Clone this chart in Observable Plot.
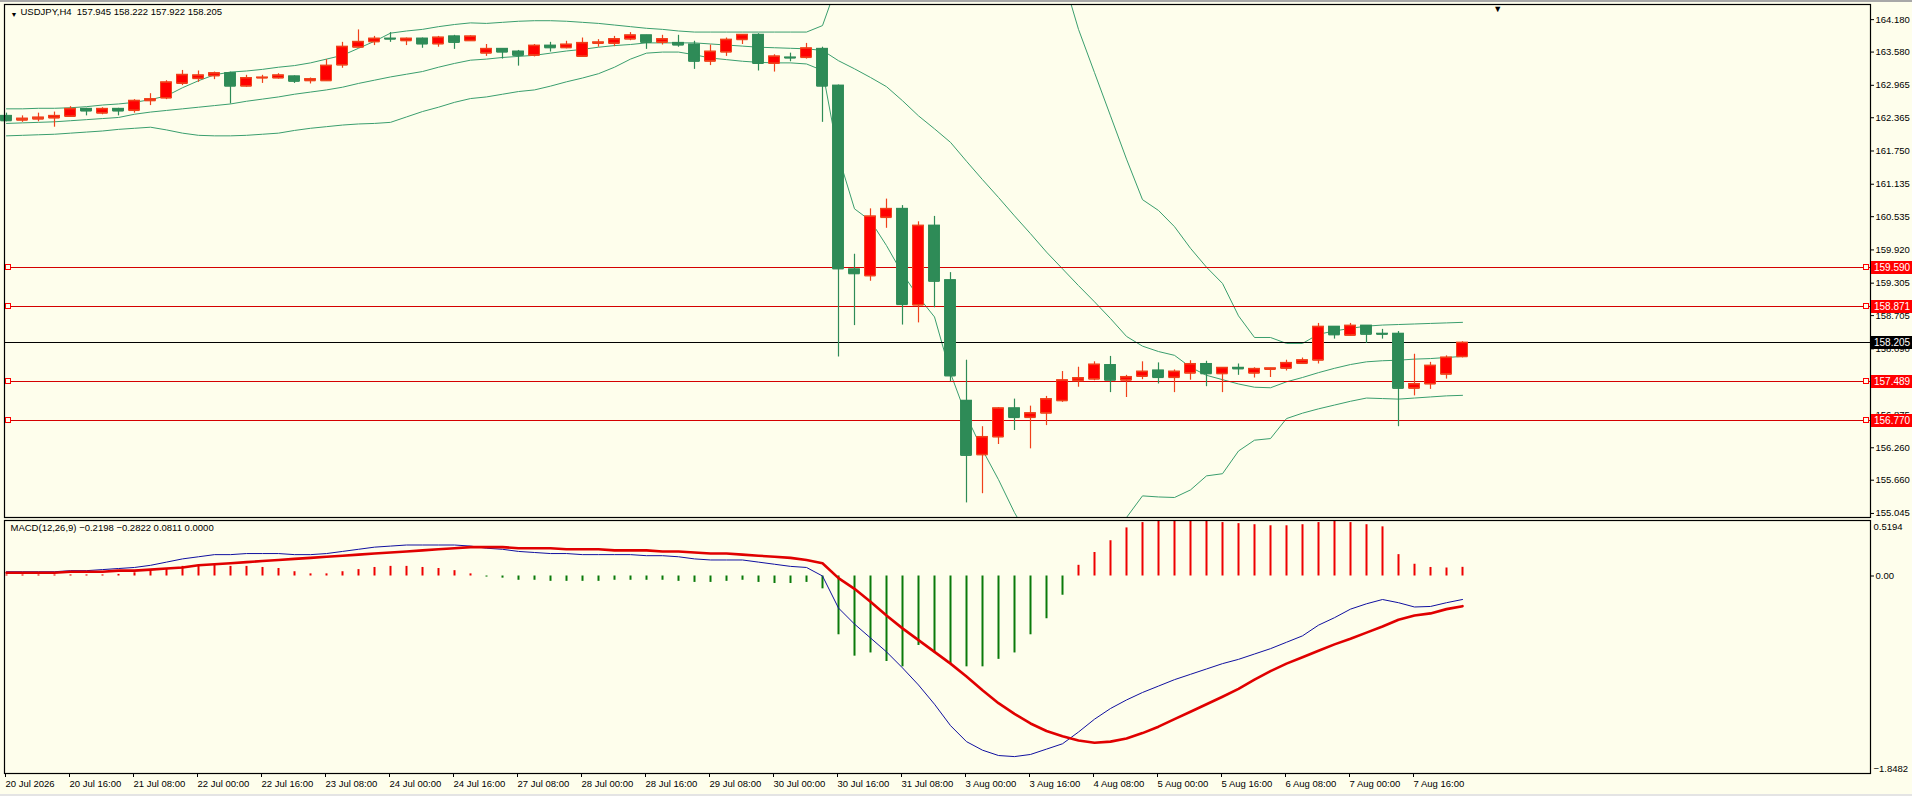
<!DOCTYPE html>
<html>
<head>
<meta charset="utf-8">
<script src="https://cdn.jsdelivr.net/npm/d3@7"></script>
<script src="https://cdn.jsdelivr.net/npm/@observablehq/plot@0.6"></script>
<style>
html,body{margin:0;padding:0;background:#fefeec;}
#wrap{position:relative;width:1912px;height:796px;overflow:hidden;background:#fefeec;}
#wrap svg{position:absolute;left:0;}
#topbar{position:absolute;left:0;top:0;width:1912px;height:2px;background:#a8a8a8;z-index:2;}
#botbar{position:absolute;left:0;bottom:0;width:1912px;height:2px;background:#e4e4e4;z-index:2;}
</style>
</head>
<body>
<div id="wrap"><div id="topbar"></div><div id="botbar"></div></div>
<script>
// ---------- data ----------
const symbol = "USDJPY,H4";
const opens = [162.40,162.32,162.34,162.36,162.39,162.53,162.45,162.53,162.50,162.68,
162.73,163.00,163.09,163.14,163.19,162.95,163.10,163.10,163.13,163.05,
163.05,163.34,163.67,163.77,163.83,163.79,163.83,163.73,163.87,163.79,
163.56,163.64,163.59,163.52,163.70,163.66,163.50,163.74,163.74,163.82,
163.89,163.76,163.75,163.72,163.41,163.58,163.81,163.90,163.37,163.48,
163.48,163.64,162.96,159.56,159.44,160.52,160.68,158.90,160.37,159.36,
157.13,156.13,156.46,156.99,156.82,156.90,157.13,157.50,157.53,157.79,
157.51,157.58,157.69,157.56,157.64,157.81,157.63,157.74,157.64,157.71,
157.73,157.82,157.88,158.50,158.34,158.52,158.37,158.37,157.36,157.44,
157.62,157.945];
const highs = [162.45,162.40,162.45,162.47,162.57,162.54,162.55,162.54,162.70,162.81,
163.05,163.24,163.23,163.21,163.21,163.15,163.15,163.18,163.14,163.10,
163.44,163.76,163.99,163.87,163.94,163.84,163.84,163.87,163.89,163.88,
163.72,163.64,163.61,163.72,163.76,163.78,163.84,163.81,163.87,163.94,
163.89,163.89,163.89,163.78,163.71,163.84,163.90,163.92,163.53,163.56,
163.74,163.67,162.97,159.84,160.68,160.86,160.74,160.44,160.54,159.50,
157.88,156.65,157.00,157.16,157.03,157.21,157.67,157.75,157.85,157.95,
157.60,157.85,157.83,157.70,157.87,157.86,157.74,157.81,157.74,157.73,
157.88,157.92,158.56,158.50,158.56,158.52,158.45,158.41,157.99,157.84,
157.96,158.222];
const lows = [162.29,162.28,162.29,162.19,162.37,162.40,162.42,162.40,162.45,162.59,
162.70,162.96,163.02,163.07,162.62,162.93,163.00,163.08,163.00,162.99,
163.04,163.28,163.66,163.70,163.76,163.70,163.65,163.67,163.63,163.78,
163.50,163.45,163.32,163.49,163.58,163.64,163.50,163.67,163.68,163.79,
163.63,163.71,163.67,163.26,163.33,163.50,163.72,163.23,163.21,163.40,
163.45,162.28,157.94,158.52,159.34,160.32,158.53,158.57,158.85,157.48,
155.24,155.41,156.32,156.58,156.24,156.67,157.10,157.38,157.50,157.28,
157.19,157.52,157.44,157.28,157.51,157.39,157.28,157.60,157.55,157.56,
157.68,157.81,157.81,158.27,158.33,158.19,158.27,156.65,157.22,157.34,
157.53,157.922];
const closes = [162.31,162.35,162.37,162.40,162.53,162.49,162.53,162.49,162.68,162.71,
163.02,163.16,163.15,163.19,162.95,163.10,163.11,163.15,163.04,163.08,
163.33,163.68,163.77,163.83,163.82,163.83,163.73,163.85,163.76,163.87,
163.64,163.58,163.52,163.70,163.66,163.72,163.75,163.76,163.82,163.89,
163.76,163.82,163.71,163.41,163.59,163.81,163.90,163.37,163.50,163.47,
163.65,162.95,159.57,159.48,160.54,160.68,158.91,160.37,159.34,157.59,
156.12,156.46,156.99,156.82,156.90,157.16,157.51,157.55,157.80,157.51,
157.57,157.67,157.56,157.67,157.81,157.63,157.74,157.72,157.72,157.73,
157.83,157.88,158.50,158.35,158.52,158.36,158.36,157.36,157.44,157.78,
157.93,158.205];
const bbUpper = [162.53,162.53,162.54,162.54,162.55,162.57,162.60,162.62,162.65,162.70,
162.77,162.92,163.05,163.16,163.21,163.23,163.26,163.30,163.33,163.38,
163.45,163.52,163.65,163.78,163.93,163.97,164.00,164.05,164.09,164.12,
164.11,164.13,164.15,164.16,164.16,164.15,164.13,164.11,164.08,164.05,
164.02,164.00,163.97,163.95,163.95,163.95,163.95,163.95,163.95,163.95,
163.95,164.07,164.90,165.40,165.60,165.80,166.10,166.20,166.30,166.50,
167.00,167.10,167.00,166.80,166.40,165.80,165.00,164.00,163.20,162.40,
161.60,160.85,160.65,160.35,159.95,159.60,159.30,158.70,158.30,158.30,
158.19,158.19,158.36,158.42,158.47,158.51,158.53,158.54,158.55,158.56,
158.57,158.58];
const bbMiddle = [162.26,162.27,162.28,162.29,162.31,162.33,162.35,162.37,162.43,162.47,
162.50,162.53,162.56,162.59,162.62,162.67,162.71,162.75,162.80,162.84,
162.88,162.93,163.00,163.06,163.12,163.17,163.22,163.30,163.37,163.43,
163.45,163.48,163.50,163.52,163.56,163.60,163.63,163.67,163.70,163.72,
163.75,163.75,163.75,163.75,163.73,163.71,163.69,163.67,163.66,163.65,
163.64,163.61,163.42,163.27,163.11,162.94,162.68,162.40,162.16,161.91,
161.56,161.22,160.89,160.55,160.22,159.88,159.57,159.26,158.96,158.65,
158.32,158.14,158.04,157.97,157.75,157.60,157.52,157.44,157.38,157.37,
157.48,157.56,157.65,157.73,157.80,157.85,157.87,157.88,157.90,157.91,
157.93,157.95];
const bbLower = [162.03,162.04,162.05,162.06,162.08,162.10,162.12,162.15,162.17,162.19,
162.14,162.08,162.04,162.03,162.03,162.04,162.06,162.08,162.13,162.17,
162.20,162.23,162.25,162.26,162.28,162.38,162.48,162.56,162.65,162.72,
162.75,162.80,162.85,162.88,162.95,163.03,163.10,163.18,163.30,163.45,
163.56,163.58,163.58,163.53,163.47,163.44,163.41,163.39,163.38,163.38,
163.36,163.24,161.65,160.68,160.46,160.00,159.48,159.05,158.68,157.64,
156.84,156.22,155.67,155.06,154.55,154.20,154.00,154.10,154.40,154.80,
154.97,155.37,155.35,155.34,155.48,155.74,155.78,156.20,156.40,156.43,
156.80,156.90,156.98,157.05,157.12,157.18,157.17,157.16,157.18,157.20,
157.22,157.23];
const macdHist = [0.01,0.01,0.01,0.01,0.01,0.01,0.01,0.015,0.03,0.05,
0.07,0.09,0.10,0.10,0.09,0.09,0.08,0.07,0.04,0.02,
0.02,0.04,0.06,0.08,0.09,0.09,0.08,0.07,0.05,0.02,
-0.01,-0.02,-0.04,-0.04,-0.05,-0.05,-0.05,-0.05,-0.04,-0.04,
-0.04,-0.04,-0.05,-0.06,-0.06,-0.05,-0.04,-0.06,-0.07,-0.07,
-0.06,-0.12,-0.55,-0.75,-0.72,-0.80,-0.85,-0.65,-0.72,-0.82,
-0.85,-0.85,-0.78,-0.72,-0.55,-0.40,-0.18,0.10,0.22,0.33,
0.45,0.50,0.51,0.5194,0.51,0.51,0.50,0.49,0.48,0.47,
0.47,0.48,0.50,0.51,0.50,0.48,0.46,0.20,0.11,0.08,
0.075,0.0811];
const macdMain = [0.04,0.04,0.04,0.04,0.05,0.05,0.06,0.07,0.08,0.10,
0.13,0.16,0.18,0.20,0.20,0.21,0.21,0.21,0.20,0.20,
0.21,0.23,0.25,0.27,0.28,0.29,0.29,0.29,0.29,0.28,
0.26,0.25,0.23,0.22,0.21,0.21,0.20,0.20,0.20,0.20,
0.19,0.19,0.18,0.16,0.15,0.15,0.15,0.13,0.11,0.09,
0.08,0.00,-0.30,-0.45,-0.58,-0.71,-0.86,-1.02,-1.20,-1.40,
-1.55,-1.63,-1.68,-1.69,-1.67,-1.62,-1.57,-1.46,-1.34,-1.24,
-1.16,-1.09,-1.03,-0.97,-0.92,-0.87,-0.82,-0.78,-0.73,-0.68,
-0.62,-0.56,-0.46,-0.39,-0.31,-0.26,-0.22,-0.25,-0.29,-0.285,
-0.25,-0.2198];
const macdSignal = [0.03,0.03,0.03,0.03,0.04,0.04,0.04,0.05,0.05,0.06,
0.07,0.08,0.10,0.11,0.12,0.13,0.14,0.15,0.16,0.17,
0.18,0.19,0.20,0.21,0.22,0.23,0.24,0.25,0.26,0.27,
0.27,0.27,0.26,0.26,0.26,0.25,0.25,0.25,0.24,0.24,
0.24,0.23,0.23,0.22,0.21,0.21,0.20,0.19,0.18,0.17,
0.15,0.12,-0.02,-0.12,-0.24,-0.37,-0.49,-0.60,-0.71,-0.82,
-0.94,-1.07,-1.19,-1.29,-1.38,-1.45,-1.50,-1.54,-1.56,-1.55,
-1.52,-1.47,-1.41,-1.34,-1.27,-1.20,-1.13,-1.056,-0.97,-0.89,
-0.82,-0.76,-0.70,-0.64,-0.587,-0.53,-0.472,-0.41,-0.37,-0.35,
-0.31,-0.2822];
const macdExtra = 0.0000;
const dateLabels = ["20 Jul 2026","20 Jul 16:00","21 Jul 08:00","22 Jul 00:00","22 Jul 16:00","23 Jul 08:00",
"24 Jul 00:00","24 Jul 16:00","27 Jul 08:00","28 Jul 00:00","28 Jul 16:00","29 Jul 08:00","30 Jul 00:00",
"30 Jul 16:00","31 Jul 08:00","3 Aug 00:00","3 Aug 16:00","4 Aug 08:00","5 Aug 00:00","5 Aug 16:00",
"6 Aug 08:00","7 Aug 00:00","7 Aug 16:00"];
const barsPerLabel = 4;
const priceTicks = [164.180,163.580,162.965,162.365,161.750,161.135,160.535,159.920,159.305,158.705,158.090,156.875,156.260,155.660,155.045];
const levels = [159.590,158.871,157.489,156.770];
const priceDomain = [154.97, 164.46];
const macdDomain = [-1.8482, 0.5194];
const chartShiftBars = 2.2;
</script>
<script>
const W = 1912, H1 = 519, H2 = 277;
const ML = 4, MR = 42;
const xDomain = [-0.125, 116.5];
const UP = "#ff0000", UPLINE = "#f0401a", DOWN = "#2e8b57", BAND = "#3a9e6e", LEVEL = "#d40000";
const f3 = d3.format(".3f"), f4 = d3.format(".4f");
const font = "'Liberation Sans', 'DejaVu Sans', sans-serif";
const FS = 9.5;
const hw = 0.34;

const bars = opens.map((o, i) => ({i, open: o, high: highs[i], low: lows[i], close: closes[i], up: closes[i] >= o}));
const bands = bbUpper.map((u, i) => ({i, upper: u, middle: bbMiddle[i], lower: bbLower[i]}));
const macd = macdMain.map((m, i) => ({i, main: m, signal: macdSignal[i], hist: macdHist[i]}));
const last = bars[bars.length - 1];
const currentPrice = last.close;

function labelBoxes(vals, fill, squares) {
  return (index, scales, values, dims) => {
    const g = d3.create("svg:g").attr("text-anchor", "start");
    const xr = dims.width - dims.marginRight;
    const xl = dims.marginLeft;
    for (const v of vals) {
      const y = Math.round(scales.y(v));
      if (squares) {
        g.append("rect").attr("x", xl + 1.5).attr("y", y - 2.5).attr("width", 5).attr("height", 5)
          .attr("fill", "#fefeec").attr("stroke", fill).attr("stroke-width", 1);
        g.append("rect").attr("x", xr - 6.5).attr("y", y - 2.5).attr("width", 5).attr("height", 5)
          .attr("fill", "#fefeec").attr("stroke", fill).attr("stroke-width", 1);
      }
      g.append("rect").attr("x", xr + 1).attr("y", y - 6).attr("width", 41).attr("height", 13).attr("fill", fill);
      g.append("text").attr("x", xr + 4).attr("y", y + 0.5).attr("dy", "0.35em")
        .attr("text-anchor", "start")
        .attr("fill", "#ffffff").attr("font-size", 10).attr("font-family", font).text(f3(v));
    }
    return g.node();
  };
}

const plot1 = Plot.plot({
  width: W, height: H1,
  marginLeft: ML, marginRight: MR, marginTop: 4, marginBottom: 2,
  x: {domain: xDomain, axis: null},
  y: {domain: priceDomain},
  style: {background: "transparent", overflow: "visible", fontFamily: font, fontSize: FS + "px", color: "#000"},
  marks: [
    Plot.line(bands, {x: "i", y: "upper", stroke: BAND, strokeWidth: 1, clip: true}),
    Plot.line(bands, {x: "i", y: "middle", stroke: BAND, strokeWidth: 1, clip: true}),
    Plot.line(bands, {x: "i", y: "lower", stroke: BAND, strokeWidth: 1, clip: true}),
    Plot.ruleY(levels, {stroke: LEVEL, strokeWidth: 1, shapeRendering: "crispEdges"}),
    Plot.ruleY([currentPrice], {stroke: "#000", strokeWidth: 1, shapeRendering: "crispEdges"}),
    Plot.ruleX(bars, {x: "i", y1: "low", y2: "high", stroke: d => d.up ? UPLINE : DOWN, strokeWidth: 1.2}),
    Plot.rect(bars, {x1: d => d.i - hw, x2: d => d.i + hw, y1: "open", y2: "close",
      fill: d => d.up ? UP : DOWN, stroke: d => d.up ? UPLINE : DOWN, strokeWidth: 1}),
    Plot.ruleY(bars, {y: "close", x1: d => d.i - hw, x2: d => d.i + hw, stroke: d => d.up ? UPLINE : DOWN, strokeWidth: 1.2}),
    Plot.ruleY(bars, {y: "open", x1: d => d.i - hw, x2: d => d.i + hw, stroke: d => d.up ? UPLINE : DOWN, strokeWidth: 1.2}),
    Plot.frame({stroke: "#000", strokeWidth: 1.2}),
    Plot.axisY(priceTicks, {anchor: "right", tickFormat: f3, tickSize: 3, tickPadding: 2, label: null, fontSize: FS}),
    labelBoxes(levels, "#ff0000", true),
    labelBoxes([currentPrice], "#000000", false),
    Plot.text([last], {x: d => d.i + chartShiftBars, frameAnchor: "top", text: () => "\u25BC", dy: 1, fontSize: 9, lineAnchor: "top", fill: "#000"}),
    Plot.text(["\u25BC"], {frameAnchor: "top-left", dx: 6, dy: 8, fontSize: 7, textAnchor: "start", fill: "#000"}),
    Plot.text([`${symbol}  ${f3(last.open)} ${f3(last.high)} ${f3(last.low)} ${f3(last.close)}`],
      {frameAnchor: "top-left", dx: 16, dy: 4, fontSize: FS, textAnchor: "start", lineAnchor: "top", fill: "#000"})
  ]
});

const tickIdx = dateLabels.map((_, k) => k * barsPerLabel);
const labelOf = new Map(tickIdx.map((t, k) => [t, dateLabels[k]]));

const plot2 = Plot.plot({
  width: W, height: H2,
  marginLeft: ML, marginRight: MR, marginTop: 1, marginBottom: 23,
  x: {domain: xDomain},
  y: {domain: macdDomain},
  style: {background: "transparent", overflow: "visible", fontFamily: font, fontSize: FS + "px", color: "#000"},
  marks: [
    Plot.ruleX(macd, {x: "i", y1: 0, y2: "hist", stroke: d => d.hist >= 0 ? "#ee0000" : "#0a7a0a", strokeWidth: 2}),
    Plot.line(macd, {x: "i", y: "main", stroke: "#1010a0", strokeWidth: 1}),
    Plot.line(macd, {x: "i", y: "signal", stroke: "#e00000", strokeWidth: 2.6}),
    Plot.frame({stroke: "#000", strokeWidth: 1.2}),
    Plot.axisY([0], {anchor: "right", tickFormat: () => "0.00", tickSize: 3, tickPadding: 2, label: null, fontSize: FS}),
    Plot.text([f4(macdDomain[1])], {frameAnchor: "top-right", dx: 3, dy: 3, textAnchor: "start", lineAnchor: "top", fontSize: FS, fill: "#000"}),
    Plot.text([f4(macdDomain[0])], {frameAnchor: "bottom-right", dx: 3, dy: -2, textAnchor: "start", lineAnchor: "bottom", fontSize: FS, fill: "#000"}),
    Plot.text([`MACD(12,26,9) ${f4(macdMain[macdMain.length-1])} ${f4(macdSignal[macdSignal.length-1])} ${f4(macdHist[macdHist.length-1])} ${f4(macdExtra)}`],
      {frameAnchor: "top-left", dx: 6, dy: 4, textAnchor: "start", lineAnchor: "top", fontSize: FS, fill: "#000"}),
    Plot.axisX(tickIdx, {anchor: "bottom", tickFormat: t => labelOf.get(t), textAnchor: "start", tickSize: 4, tickPadding: 3, label: null, fontSize: FS, dx: -1})
  ]
});

const wrap = document.getElementById("wrap");
plot1.style.top = "0px";
plot2.style.top = H1 + "px";
wrap.appendChild(plot1);
wrap.appendChild(plot2);
</script>
</body>
</html>
